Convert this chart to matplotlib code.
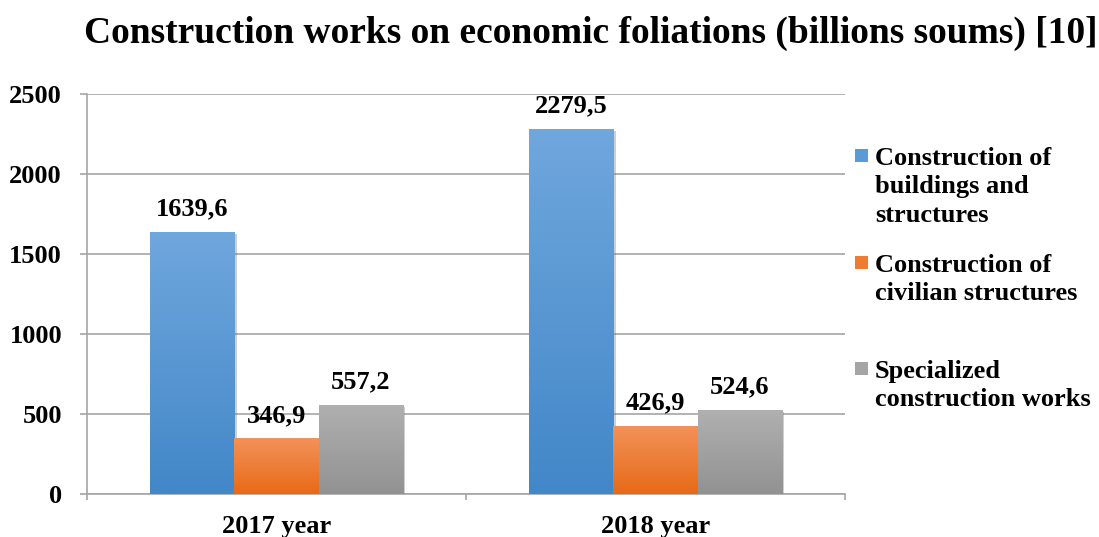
import numpy as np
import matplotlib
matplotlib.use('Agg')
import matplotlib.pyplot as plt
import matplotlib.patheffects as pe
from matplotlib.colors import LinearSegmentedColormap
from matplotlib.patches import Rectangle

# data
years = ['2017 year', '2018 year']
series = ['Construction of\nbuildings and\nstructures',
          'Construction of\ncivilian structures',
          'Specialized\nconstruction works']
buildings = [1639.6, 2279.5]
civilian = [346.9, 426.9]
specialized = [557.2, 524.6]
values = [buildings, civilian, specialized]

# colours: (top, bottom) of the gradient
grads = [('#70A7DD', '#4287C8'), ('#F39259', '#E76A18'), ('#B0B0B0', '#929292')]
solid = ['#5B9BD5', '#ED7D31', '#A5A5A5']

plt.rcParams['font.family'] = ['Liberation Serif', 'DejaVu Serif']
plt.rcParams['font.weight'] = 'bold'

fig = plt.figure(figsize=(10.99, 5.37), dpi=100)
ax = fig.add_axes([87 / 1099, 43 / 537, 758 / 1099, 400 / 537])

x = np.arange(len(years))
w = 0.222
grad = np.linspace(1, 0, 256).reshape(-1, 1)
for i, vals in enumerate(values):
    bars = ax.bar(x + (i - 1) * w, vals, w, color=solid[i], linewidth=0, zorder=3,
                  path_effects=[pe.SimplePatchShadow(offset=(2, -1.5), shadow_rgbFace='#777777', alpha=0.35),
                                pe.Normal()])
    cmap = LinearSegmentedColormap.from_list('g%d' % i, [grads[i][1], grads[i][0]])
    for b, v in zip(bars, vals):
        x0, x1 = b.get_x(), b.get_x() + b.get_width()
        im = ax.imshow(grad, extent=[x0, x1, 0, v], cmap=cmap, aspect='auto',
                       zorder=4, origin='upper', vmin=0, vmax=1)
        im.set_clip_path(b)
        ax.annotate(('%.1f' % v).replace('.', ','), (b.get_x() + b.get_width() / 2, v),
                    xytext=(0, 12), textcoords='offset points', ha='center', va='baseline',
                    fontsize=19, fontweight='bold', zorder=5)

ax.set_xlim(-0.5, 1.5)
ax.set_ylim(0, 2500)
ax.set_yticks(np.arange(0, 2501, 500))
ax.set_xticks(x)
ax.set_xticklabels(years)
ax.set_xticks([-0.5, 0.5, 1.5], minor=True)

ax.set_axisbelow(True)
ax.yaxis.grid(True, color='#A6A6A6', linewidth=1.2)
for s in ['top', 'right']:
    ax.spines[s].set_visible(False)
for s in ['left', 'bottom']:
    ax.spines[s].set_color('#A6A6A6')
    ax.spines[s].set_linewidth(1.2)

ax.tick_params(axis='y', length=5, width=1.2, color='#A6A6A6', pad=13, labelsize=19)
ax.tick_params(axis='x', which='major', length=0, pad=15, labelsize=19)
ax.tick_params(axis='x', which='minor', length=4.5, width=1.2, color='#A6A6A6')
for t in ax.get_xticklabels() + ax.get_yticklabels():
    t.set_fontweight('bold')

fig.text(591 / 1099, 1 - 43 / 537, 'Construction works on economic foliations (billions soums) [10]',
         ha='center', va='baseline', fontsize=27, fontweight='bold')

# legend, laid out like the Excel one on the right
leg_base = [165, 272, 378]
for i, lab in enumerate(series):
    yb = 1 - leg_base[i] / 537
    fig.patches.append(Rectangle((855 / 1099, yb + 3 / 537), 13 / 1099, 13 / 537,
                                 transform=fig.transFigure, facecolor=solid[i], edgecolor='none'))
    fig.text(875 / 1099, yb + 18 / 537, lab, ha='left', va='top', fontsize=19, fontweight='bold',
             linespacing=1.3)

fig.savefig('out.png', dpi=100)
